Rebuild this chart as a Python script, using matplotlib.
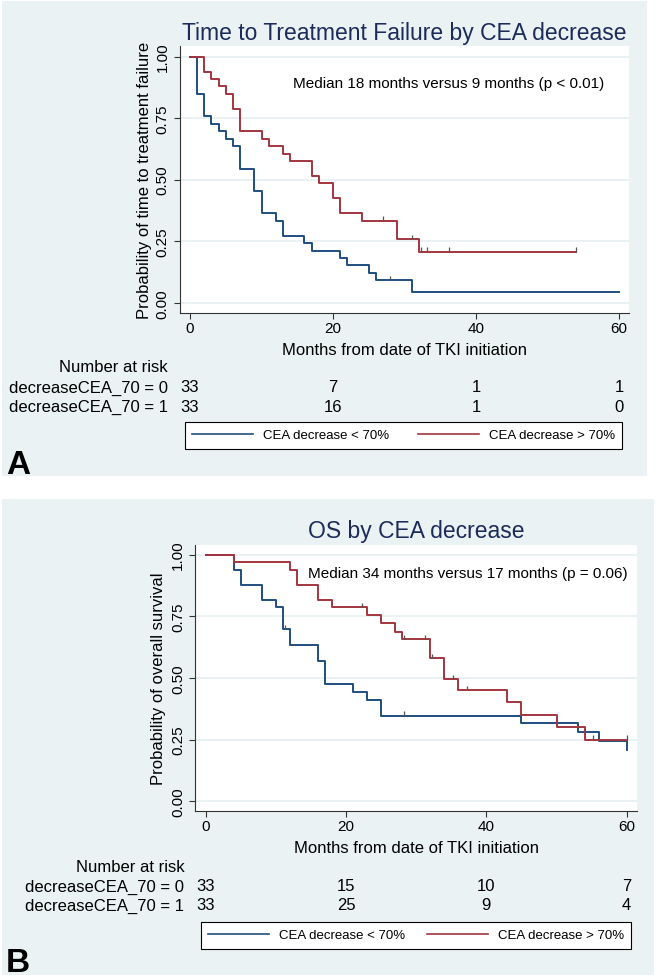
import numpy as np
import matplotlib.pyplot as plt
from matplotlib.patches import Rectangle
from matplotlib.lines import Line2D
from matplotlib.transforms import blended_transform_factory

plt.rcParams['font.family'] = ['Liberation Sans', 'DejaVu Sans']

# ---- data ----
# Panel A: time to treatment failure
ttf_low_t = [0, 1, 2, 3, 4, 5, 6, 7, 9, 10, 12, 13, 16, 17, 21, 22, 25, 26, 31, 60]
ttf_low_s = [1.0, 0.848, 0.758, 0.727, 0.697, 0.667, 0.636, 0.545, 0.455, 0.364,
             0.333, 0.273, 0.242, 0.212, 0.182, 0.152, 0.121, 0.091, 0.045, 0.045]
ttf_low_cens = [28]

ttf_high_t = [0, 2, 3, 4, 5, 6, 7, 10, 11, 13, 14, 17, 18, 20, 21, 24, 29, 32, 54]
ttf_high_s = [1.0, 0.939, 0.909, 0.879, 0.848, 0.788, 0.697, 0.667, 0.636, 0.606,
              0.576, 0.515, 0.485, 0.424, 0.364, 0.333, 0.259, 0.207, 0.207]
ttf_high_cens = [27, 31, 32.3, 33.2, 36.2, 54]

# Panel B: overall survival
os_low_t = [0, 4, 5, 8, 10, 11, 12, 16, 17, 21, 23, 25, 45, 53, 56, 60]
os_low_s = [1.0, 0.939, 0.879, 0.818, 0.788, 0.697, 0.634, 0.570, 0.476, 0.442,
            0.411, 0.347, 0.316, 0.282, 0.245, 0.209]
os_low_cens = [11.3, 28.2]

os_high_t = [0, 4, 12, 13, 16, 18, 23, 25, 27, 28, 32, 34, 36, 43, 45, 50, 54, 60]
os_high_s = [1.0, 0.970, 0.939, 0.879, 0.818, 0.788, 0.757, 0.723, 0.687, 0.657,
             0.580, 0.496, 0.451, 0.401, 0.351, 0.300, 0.250, 0.250]
os_high_cens = [22.3, 28.2, 31.2, 32.3, 35.2, 37.2, 55.2, 60]

risk_times = [0, 20, 40, 60]
ttf_risk_low = [33, 7, 1, 1]
ttf_risk_high = [33, 16, 1, 0]
os_risk_low = [33, 15, 10, 7]
os_risk_high = [33, 25, 9, 4]

risk_labels = ['decreaseCEA_70 = 0', 'decreaseCEA_70 = 1']
legend_labels = ['CEA decrease < 70%', 'CEA decrease > 70%']
yticks = [0, 0.25, 0.5, 0.75, 1.0]
xticks = [0, 20, 40, 60]

BLUE = '#1f4e7d'
RED = '#a2353f'
BG = '#eaf2f3'
GRID = '#e4edf0'
TITLE = '#1c2b5a'
AX = '#333333'

W, H = 656, 978
fig = plt.figure(figsize=(W / 100, H / 100), dpi=100)


def fx(px):
    return px / W


def fy(py):
    return 1 - py / H


# panel backgrounds
fig.patches.append(Rectangle((fx(2), fy(477)), 645 / W, 475 / H, transform=fig.transFigure,
                             facecolor=BG, edgecolor='none', zorder=-10))
fig.patches.append(Rectangle((fx(2), fy(976)), 652 / W, 476 / H, transform=fig.transFigure,
                             facecolor=BG, edgecolor='none', zorder=-10))


def panel(rect, xlim, ylim, curves, title, ylabel, ylabel_x, note, note_xy,
          risks, rows_y, legend_box, letter, letter_xy):
    ax = fig.add_axes(rect)
    ax.set_facecolor('white')
    for t, s, cens, color in curves:
        t = np.array(t)
        s = np.array(s)
        ax.step(t, s, where='post', color=color, lw=1.4, zorder=3)
        cs = s[np.searchsorted(t, cens, side='right') - 1]
        ax.vlines(cens, cs, cs + 0.018, color='#555555', lw=0.9, zorder=4)

    ax.set_xlim(*xlim)
    ax.set_ylim(*ylim)
    ax.set_xticks(xticks)
    ax.set_yticks(yticks)
    ax.set_yticklabels(['%.2f' % v for v in yticks])
    ax.grid(axis='y', color=GRID, lw=1.1)
    ax.set_axisbelow(True)
    for sp in ['top', 'right']:
        ax.spines[sp].set_visible(False)
    for sp in ['left', 'bottom']:
        ax.spines[sp].set_color(AX)
        ax.spines[sp].set_linewidth(0.8)
    ax.tick_params(length=4, width=0.8, color=AX, labelsize=11)
    ax.tick_params(axis='x', pad=1.5)
    ax.tick_params(axis='y', labelrotation=90, pad=3.2)
    for lbl in ax.get_yticklabels():
        lbl.set_va('center')

    ax.set_title(title, fontsize=16.5, color=TITLE, pad=5.4)
    ax.text(ylabel_x, 0.5, ylabel, transform=ax.transAxes, rotation=90,
            ha='center', va='center', fontsize=12)
    ax.text(0.5, -0.135, 'Months from date of TKI initiation', transform=ax.transAxes,
            ha='center', va='center', fontsize=12)
    ax.text(note_xy[0], note_xy[1], note, ha='left', va='center', fontsize=11)

    # number at risk table
    trans = blended_transform_factory(ax.transData, fig.transFigure)
    ax.text(-3.1, fy(rows_y[0]), 'Number at risk', transform=trans,
            ha='right', va='center', fontsize=12)
    for lab, vals, ry in zip(risk_labels, risks, rows_y[1:]):
        ax.text(-3.1, fy(ry), lab, transform=trans, ha='right', va='center', fontsize=12)
        for tt, v in zip(risk_times, vals):
            ax.text(tt, fy(ry), str(v), transform=trans, ha='center', va='center', fontsize=12)

    handles = [Line2D([], [], color=BLUE, lw=1.2), Line2D([], [], color=RED, lw=1.2)]
    x0, y0, x1, y1 = legend_box
    leg = fig.legend(handles, legend_labels, loc='upper left',
                     bbox_to_anchor=(fx(x0), fy(y1), (x1 - x0) / W, (y1 - y0) / H),
                     mode='expand', ncol=2, fontsize=9.5, frameon=True, fancybox=False,
                     edgecolor='black', framealpha=1, borderaxespad=0, borderpad=0.55,
                     handlelength=4.6, handletextpad=0.75)
    leg.get_frame().set_linewidth(0.8)

    fig.text(fx(letter_xy[0]), fy(letter_xy[1]), letter, fontsize=24,
             fontweight='bold', ha='left', va='baseline')
    return ax


panel([fx(179.5), fy(314.3), 449.5 / W, 267 / H], (-1.47, 61.4), (-0.043, 1.042),
      [(ttf_low_t, ttf_low_s, ttf_low_cens, BLUE),
       (ttf_high_t, ttf_high_s, ttf_high_cens, RED)],
      'Time to Treatment Failure by CEA decrease',
      'Probability of time to treatment failure', -0.077,
      'Median 18 months versus 9 months (p < 0.01)', (14.4, 0.893),
      [ttf_risk_low, ttf_risk_high], [368, 388, 407],
      (185, 423, 622, 454), 'A', (6, 474))

panel([fx(195.3), fy(812.3), 441.4 / W, 266.6 / H], (-1.53, 61.44), (-0.0406, 1.0405),
      [(os_low_t, os_low_s, os_low_cens, BLUE),
       (os_high_t, os_high_s, os_high_cens, RED)],
      'OS by CEA decrease',
      'Probability of overall survival', -0.0845,
      'Median 34 months versus 17 months (p = 0.06)', (14.55, 0.925),
      [os_risk_low, os_risk_high], [868, 887, 906],
      (201, 923, 631, 953), 'B', (6, 972))

fig.savefig('out.png', dpi=100)
